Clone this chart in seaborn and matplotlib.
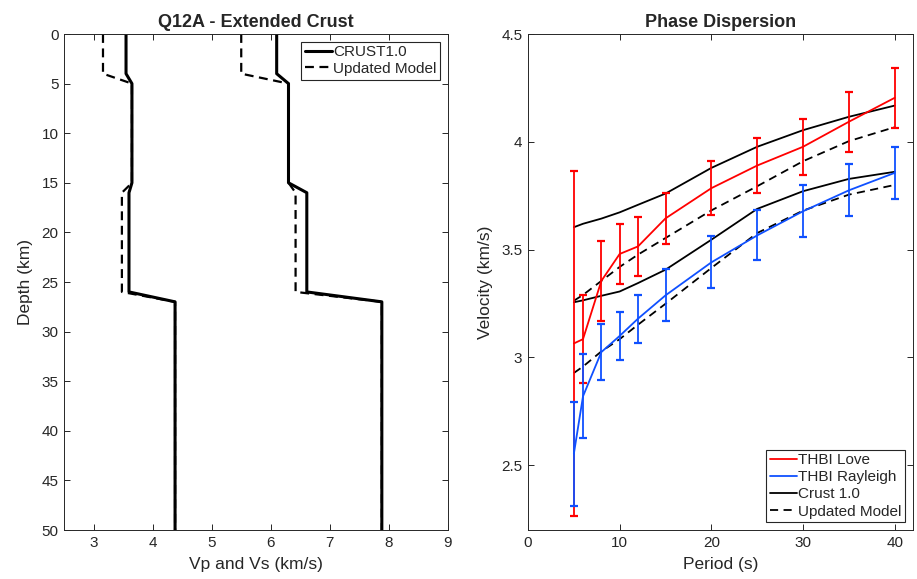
import matplotlib
matplotlib.use("Agg")
import matplotlib.pyplot as plt
import seaborn as sns
import pandas as pd

# ---- Left panel: velocity profiles ----
depth_km = [0, 4, 5, 15, 16, 26, 27, 50]
crust_vs = [3.55, 3.55, 3.65, 3.65, 3.60, 3.60, 4.38, 4.38]
crust_vp = [6.10, 6.10, 6.30, 6.30, 6.61, 6.61, 7.88, 7.88]
upd_vs = [3.16, 3.16, 3.65, 3.65, 3.48, 3.48, 4.38, 4.38]
upd_vp = [5.50, 5.50, 6.30, 6.30, 6.42, 6.42, 7.88, 7.88]

# ---- Right panel: phase dispersion ----
period_s = [5, 6, 8, 10, 12, 15, 20, 25, 30, 35, 40]
love_obs = [3.065, 3.085, 3.355, 3.48, 3.515, 3.645, 3.785, 3.89, 3.977, 4.093, 4.204]
love_err = [0.80, 0.205, 0.185, 0.14, 0.135, 0.12, 0.126, 0.128, 0.13, 0.14, 0.14]
rayl_obs = [2.553, 2.82, 3.025, 3.10, 3.18, 3.288, 3.441, 3.566, 3.678, 3.775, 3.856]
rayl_err = [0.24, 0.195, 0.128, 0.112, 0.112, 0.12, 0.12, 0.116, 0.12, 0.12, 0.12]
crust_love = [3.604, 3.62, 3.644, 3.673, 3.708, 3.76, 3.879, 3.977, 4.054, 4.116, 4.168]
crust_rayl = [3.256, 3.265, 3.286, 3.306, 3.345, 3.407, 3.546, 3.689, 3.771, 3.828, 3.861]
upd_love = [3.263, 3.29, 3.355, 3.42, 3.477, 3.554, 3.682, 3.794, 3.91, 4.003, 4.068]
upd_rayl = [2.928, 2.958, 3.028, 3.085, 3.152, 3.249, 3.415, 3.577, 3.681, 3.755, 3.80]

sns.set_style("ticks")
plt.rcParams["font.family"] = ["Liberation Sans", "DejaVu Sans"]
plt.rcParams["font.size"] = 11
GRAY = "#262626"
RED = "#ff0000"
BLUE = "#0f50ff"
TICK_FS = 11
LABEL_FS = 12.5
TITLE_FS = 13
LEG_FS = 11

fig = plt.figure(figsize=(9.17, 5.79), dpi=100)
W, H = 917, 579
axL = fig.add_axes([64 / W, (H - 530) / H, (448 - 64) / W, (530 - 34) / H])
axR = fig.add_axes([528 / W, (H - 530) / H, (913 - 528) / W, (530 - 34) / H])

prof = pd.DataFrame({"depth": depth_km, "crust_vs": crust_vs, "crust_vp": crust_vp,
                     "upd_vs": upd_vs, "upd_vp": upd_vp})

sns.lineplot(data=prof, x="upd_vs", y="depth", sort=False, estimator=None, ax=axL,
             color="k", lw=1.6, label="Updated Model")
sns.lineplot(data=prof, x="upd_vp", y="depth", sort=False, estimator=None, ax=axL,
             color="k", lw=1.6)
for ln in axL.get_lines():
    ln.set_dashes((4, 2.5))
sns.lineplot(data=prof, x="crust_vs", y="depth", sort=False, estimator=None, ax=axL,
             color="k", lw=2.2, label="CRUST1.0")
sns.lineplot(data=prof, x="crust_vp", y="depth", sort=False, estimator=None, ax=axL,
             color="k", lw=2.2)

axL.set_xlim(2.5, 9)
axL.set_ylim(50, 0)
axL.set_xticks([3, 4, 5, 6, 7, 8, 9])
axL.set_yticks(range(0, 51, 5))
axL.set_xlabel("Vp and Vs (km/s)", fontsize=LABEL_FS, color=GRAY, labelpad=5)
axL.set_ylabel("Depth (km)", fontsize=LABEL_FS, color=GRAY, labelpad=6)
axL.set_title("Q12A - Extended Crust", fontsize=TITLE_FS, fontweight="bold", pad=5)
h, l = axL.get_legend_handles_labels()
order = [l.index("CRUST1.0"), l.index("Updated Model")]
legL = axL.legend([h[i] for i in order], [l[i] for i in order], loc="upper right",
                  fancybox=False, framealpha=1, edgecolor=GRAY, fontsize=LEG_FS,
                  handlelength=1.75, handletextpad=0.1, labelspacing=0.15,
                  borderpad=0.25, borderaxespad=0.5)
legL.get_frame().set_linewidth(0.8)

# right panel
disp = pd.DataFrame({"period": period_s, "love": love_obs, "rayl": rayl_obs,
                     "crust_love": crust_love, "crust_rayl": crust_rayl,
                     "upd_love": upd_love, "upd_rayl": upd_rayl})

axR.errorbar(period_s, love_obs, yerr=love_err, fmt="none", ecolor=RED, elinewidth=1.3,
             capsize=2.6, capthick=1.6, zorder=3)
axR.errorbar(period_s, rayl_obs, yerr=rayl_err, fmt="none", ecolor=BLUE, elinewidth=1.3,
             capsize=2.6, capthick=1.6, zorder=3)
sns.lineplot(data=disp, x="period", y="love", ax=axR, color=RED, lw=1.3,
             label="THBI Love", zorder=4)
sns.lineplot(data=disp, x="period", y="rayl", ax=axR, color=BLUE, lw=1.3,
             label="THBI Rayleigh", zorder=4)
sns.lineplot(data=disp, x="period", y="crust_love", ax=axR, color="k", lw=1.3,
             label="Crust 1.0", zorder=2)
sns.lineplot(data=disp, x="period", y="crust_rayl", ax=axR, color="k", lw=1.3, zorder=2)
sns.lineplot(data=disp, x="period", y="upd_love", ax=axR, color="k", lw=1.3,
             label="Updated Model", zorder=2)
sns.lineplot(data=disp, x="period", y="upd_rayl", ax=axR, color="k", lw=1.3, zorder=2)
for ln in axR.get_lines()[-2:]:
    ln.set_dashes((4.5, 3))

axR.set_xlim(0, 42)
axR.set_ylim(2.2, 4.5)
axR.set_xticks([0, 10, 20, 30, 40])
axR.set_yticks([2.5, 3, 3.5, 4, 4.5])
axR.set_yticklabels(["2.5", "3", "3.5", "4", "4.5"])
axR.set_xlabel("Period (s)", fontsize=LABEL_FS, color=GRAY, labelpad=5)
axR.set_ylabel("Velocity (km/s)", fontsize=LABEL_FS, color=GRAY, labelpad=6)
axR.set_title("Phase Dispersion", fontsize=TITLE_FS, fontweight="bold", pad=5)
legR = axR.legend(loc="lower right", fancybox=False, framealpha=1, edgecolor=GRAY,
                  fontsize=LEG_FS, handlelength=1.75, handletextpad=0.1, labelspacing=0.2,
                  borderpad=0.25, borderaxespad=0.5)
legR.get_frame().set_linewidth(0.8)

for ax in (axL, axR):
    ax.tick_params(direction="in", top=True, right=True, length=4, width=0.7,
                   colors=GRAY, labelsize=TICK_FS, pad=4)
    for s in ax.spines.values():
        s.set_visible(True)
        s.set_color(GRAY)
        s.set_linewidth(0.7)

fig.savefig("out.png", dpi=100)
